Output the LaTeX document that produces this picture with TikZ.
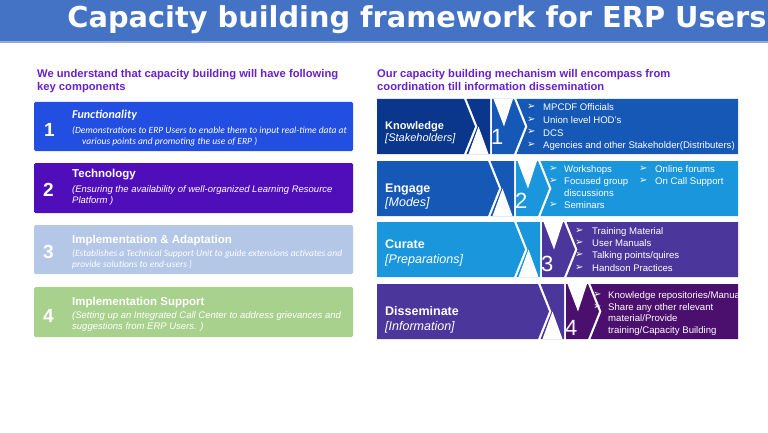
\documentclass[tikz,border=0pt]{standalone}
\usepackage{fontspec}
\setmainfont{Liberation Sans}
\newfontfamily\dejab{DejaVu Sans}
\newfontfamily\carl{Carlito}
\newfontfamily\sym{DejaVu Sans}
\definecolor{titlebar}{HTML}{4472C4}
\definecolor{titleline}{HTML}{8FAADC}
\definecolor{headc}{HTML}{6820CC}
\definecolor{lboxa}{HTML}{224EE2}
\definecolor{lboxb}{HTML}{500EBA}
\definecolor{lboxc}{HTML}{B4C7E7}
\definecolor{lboxd}{HTML}{A9D18E}
\definecolor{rc1}{HTML}{0A378C}
\definecolor{rc2}{HTML}{1558B5}
\definecolor{rc3}{HTML}{1A96DC}
\definecolor{rc4}{HTML}{4B379B}
\definecolor{rc5}{HTML}{4B0F6E}
\newcommand\myrow[4]{% #1 top, #2 xa, #3 label colour, #4 content colour
  \pgfmathsetmacro\rB{#1+55}\pgfmathsetmacro\rM{#1+27.5}
  \pgfmathsetmacro\rxb{#2+26}\pgfmathsetmacro\rxc{#2+50}
  \fill[#3] (377,#1) -- (#2,#1) -- ({#2+11},\rM) -- (#2,\rB) -- (377,\rB) -- cycle;
  \fill[#3] ({#2+2.5},#1) -- (\rxb,#1) -- (\rxb,\rB) -- ({#2+2.5},\rB) -- ({#2+13.5},\rM) -- cycle;
  \fill[white] ({#2+4.5},\rB) -- ({\rxb-1.5},\rB) -- ({#2+14.5},\rM) -- cycle;
  \fill[#4] ({\rxb+2},#1) -- (\rxc,#1) -- ({\rxc+11},\rM) -- (\rxc,\rB) -- ({\rxb+2},\rB) -- cycle;
  \fill[white] ({\rxb+3.5},#1) -- ({\rxc-1},#1) -- ({\rxb+14},\rM) -- cycle;
  \fill[#4] ({\rxc+2.5},#1) -- (738,#1) -- (738,\rB) -- ({\rxc+2.5},\rB) -- ({\rxc+13.5},\rM) -- cycle;
}
\tikzset{
  txt/.style={anchor=base west, inner sep=0pt, text=white},
  head/.style={txt, text=headc, font=\fontsize{11.2}{13}\selectfont\bfseries},
  boxtitle/.style={txt, font=\fontsize{11.5}{13}\selectfont\bfseries},
  boxdesc/.style={txt, font=\fontsize{9.5}{11}\selectfont\itshape},
  carldesc/.style={txt, font=\carl\fontsize{9.5}{11}\selectfont\itshape},
  bignum/.style={txt, font=\fontsize{19}{20}\selectfont\bfseries},
  hnum/.style={txt, font=\fontsize{22}{24}\selectfont},
  lab/.style={txt, font=\fontsize{12.5}{14}\selectfont\bfseries},
  labi/.style={txt, font=\fontsize{12.5}{14}\selectfont\itshape},
  item/.style={txt, font=\fontsize{9.6}{11}\selectfont},
  arr/.style={txt, font=\sym\fontsize{10}{11}\selectfont},
  lbox/.style={rounded corners=1.5pt}
}
\begin{document}
\begin{tikzpicture}[x=1pt,y=-1pt]
\useasboundingbox (0,0) rectangle (768,433);
\fill[white] (0,0) rectangle (768,433);
% title
\fill[titlebar] (0,0) rectangle (768,41);
\fill[titleline] (0,41) rectangle (768,43);
\node[anchor=base, inner sep=0pt, text=white, font=\dejab\bfseries\fontsize{28.8}{32}\selectfont] (title) at (417,28) {Capacity building framework for ERP Users};
% headings
\node[head] (lh1) at (37,78) {We understand that capacity building will have following};
\node[head] (lh2) at (37,91) {key components};
\node[head] (rh1) at (377,78) {Our capacity building mechanism will encompass from};
\node[head] (rh2) at (377,91) {coordination till information dissemination};
% left boxes
\fill[lboxa,lbox] (34,102) rectangle (353,151);
\fill[lboxb,lbox] (34,163) rectangle (353,213);
\fill[lboxc,lbox] (34,225) rectangle (353,274);
\fill[lboxd,lbox] (34,287) rectangle (353,337);
\node[bignum] (n1) at (44,137) {1};
\node[bignum] (n2) at (43,196) {2};
\node[bignum] (n3) at (43,258) {3};
\node[bignum] (n4) at (43,322) {4};
\node[txt, font=\carl\fontsize{12}{14}\selectfont\bfseries\itshape] (t1) at (72,119) {Functionality};
\node[carldesc] (d1a) at (72,133) {(Demonstrations to ERP Users to enable them to input real-time data at};
\node[carldesc] (d1b) at (82,144) {various points and promoting the use of ERP )};
\node[boxtitle] (t2) at (72,177) {Technology};
\node[boxdesc] (d2a) at (72,192) {(Ensuring the availability of well-organized Learning Resource};
\node[boxdesc] (d2b) at (72,203) {Platform )};
\node[boxtitle] (t3) at (72,243) {Implementation \& Adaptation};
\node[carldesc] (d3a) at (72,256) {(Establishes a Technical Support Unit to guide extensions activates and};
\node[carldesc] (d3b) at (72,267.5) {provide solutions to end-users )};
\node[boxtitle] (t4) at (72,305) {Implementation Support};
\node[boxdesc] (d4a) at (72,318) {(Setting up an Integrated Call Center to address grievances and};
\node[boxdesc] (d4b) at (72,329.5) {suggestions from ERP Users. )};
% right rows
\myrow{99}{464}{rc1}{rc2}
\myrow{161}{488}{rc2}{rc3}
\myrow{222}{514}{rc3}{rc4}
\myrow{284}{538}{rc4}{rc5}
\node[hnum] (h1) at (491,145) {1};
\node[hnum] (h2) at (515,208) {2};
\node[hnum] (h3) at (541,271) {3};
\node[hnum] (h4) at (565,335) {4};
\node[txt, font=\fontsize{11}{13}\selectfont\bfseries] (k1) at (385,130) {Knowledge};
\node[txt, font=\fontsize{11}{13}\selectfont\itshape] (k2) at (385,142) {[Stakeholders]};
\node[lab] (e1) at (385,192) {Engage};
\node[labi] (e2) at (385,206) {[Modes]};
\node[lab] (c1) at (385,248) {Curate};
\node[labi] (c2) at (385,263) {[Preparations]};
\node[lab] (s1) at (385,315) {Disseminate};
\node[labi] (s2) at (385,330) {[Information]};
% row 1 items
\node[arr] (a11) at (527,110) {➢};
\node[item] (i11) at (543,111) {MPCDF Officials};
\node[arr] (a12) at (527,122.5) {➢};
\node[item] (i12) at (543,123.5) {Union level HOD’s};
\node[arr] (a13) at (527,135) {➢};
\node[item] (i13) at (543,136) {DCS};
\node[arr] (a14) at (527,147.5) {➢};
\node[item] (i14) at (543,148.5) {Agencies and other Stakeholder(Distributers)};
% row 2 items
\node[arr] (a21) at (549,171) {➢};
\node[item] (i21) at (564,172) {Workshops};
\node[arr] (a22) at (549,183) {➢};
\node[item] (i22) at (564,184) {Focused group};
\node[item] (i22b) at (564,196) {discussions};
\node[arr] (a23) at (549,207) {➢};
\node[item] (i23) at (564,208) {Seminars};
\node[arr] (a24) at (639,171) {➢};
\node[item] (i24) at (655,172) {Online forums};
\node[arr] (a25) at (639,183) {➢};
\node[item] (i25) at (655,184) {On Call Support};
% row 3 items
\node[arr] (a31) at (575,233) {➢};
\node[item] (i31) at (592,234) {Training Material};
\node[arr] (a32) at (575,245.3) {➢};
\node[item] (i32) at (592,246.3) {User Manuals};
\node[arr] (a33) at (575,257.6) {➢};
\node[item] (i33) at (592,258.6) {Talking points/quires};
\node[arr] (a34) at (575,270) {➢};
\node[item] (i34) at (592,271) {Handson Practices};
% row 4 items
\begin{scope}
\clip (590,284) rectangle (738,339);
\node[arr] (a41) at (593,297) {➢};
\node[item] (i41) at (608,298) {Knowledge repositories/Manuals};
\node[arr] (a42) at (593,309) {➢};
\node[item] (i42) at (608,310) {Share any other relevant};
\node[item] (i42b) at (608,321.5) {material/Provide};
\node[item] (i42c) at (608,333) {training/Capacity Building};
\end{scope}
\end{tikzpicture}
\end{document}
